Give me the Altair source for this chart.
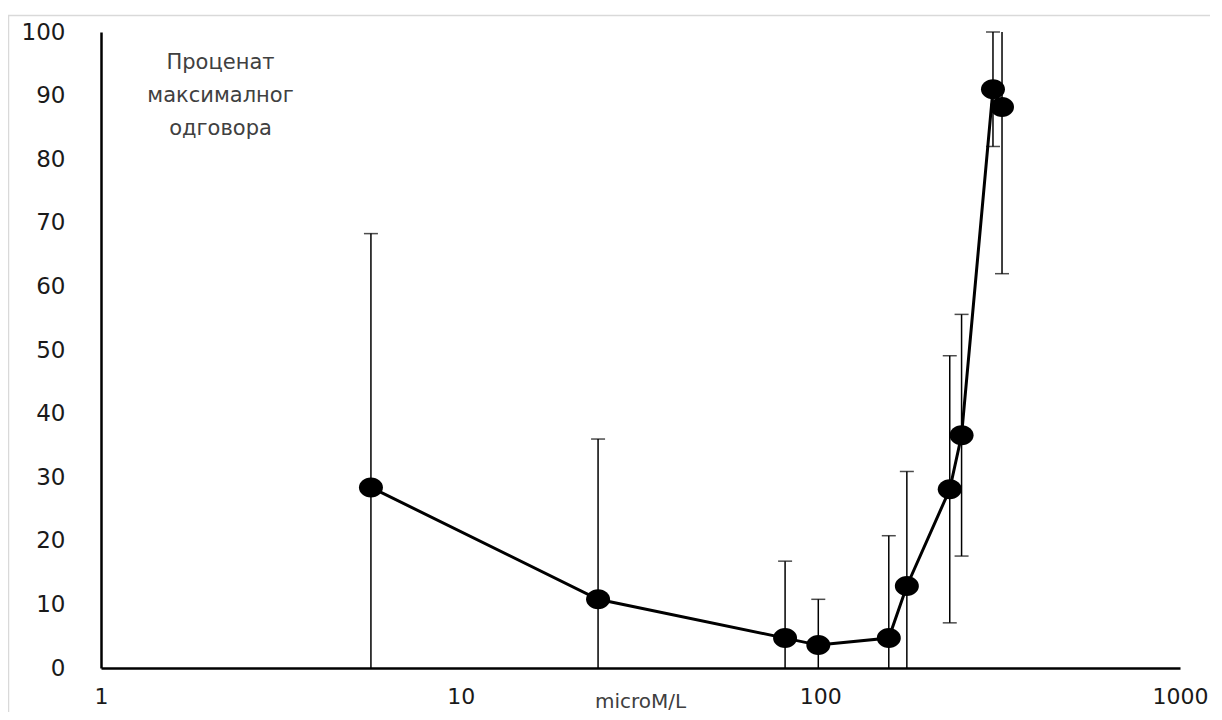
import altair as alt
import pandas as pd

# Data
conc = [5.63, 24.1, 79.8, 98.7, 155, 174, 229, 247, 302, 320]
resp = [28.4, 10.8, 4.7, 3.6, 4.7, 12.9, 28.1, 36.6, 91.0, 88.2]
sd = [39.9, 25.2, 12.1, 7.2, 16.1, 18.0, 21.0, 19.0, 9.0, 26.2]
x_ticks = [1, 10, 100, 1000]
y_ticks = [0, 10, 20, 30, 40, 50, 60, 70, 80, 90, 100]
x_title = "microM/L"
y_title = ["Проценат", "максималног", "одговора"]

FONT = "DejaVu Sans"

df = pd.DataFrame({"conc": conc, "resp": resp, "sd": sd})

xscale = alt.Scale(type="log", domain=[1, 1000], nice=False)
yscale = alt.Scale(domain=[0, 100], nice=False)

x_axis = alt.Axis(
    values=x_ticks, format="d", grid=False, ticks=False, tickSize=0,
    domainColor="black", domainWidth=2.5,
    labelFont=FONT, labelFontSize=22, labelColor="#1a1a1a", labelPadding=18,
    labelAngle=0, labelFlush=False, labelOverlap=False,
    title=x_title, titleFont=FONT, titleFontSize=20, titleFontWeight="normal",
    titleColor="#404040", titleX=539, titleY=33, titleBaseline="middle",
    titleAlign="center", titleAnchor="start",
)
y_axis = alt.Axis(
    values=y_ticks, grid=False, ticks=False, tickSize=0,
    domainColor="black", domainWidth=2.5,
    labelFont=FONT, labelFontSize=23, labelColor="#1a1a1a", labelPadding=36,
    labelFlush=False, labelOverlap=False,
    title=y_title, titleFont=FONT, titleFontSize=21, titleFontWeight="normal",
    titleColor="#404040", titleAngle=0, titleX=119, titleY=19,
    titleAlign="center", titleBaseline="top", titleLineHeight=33,
    titleAnchor="start",
)

X = alt.X("conc:Q", scale=xscale, axis=x_axis)

base = alt.Chart(df).transform_calculate(
    lo="datum.resp - datum.sd", hi="datum.resp + datum.sd"
).transform_calculate(
    lo_c="max(0, datum.lo)", hi_c="min(100, datum.hi)"
)

bars = base.mark_rule(color="black", strokeWidth=1.5).encode(
    x=X,
    y=alt.Y("lo_c:Q", scale=yscale, axis=y_axis),
    y2="hi_c:Q",
)

top_caps = base.transform_filter("datum.hi <= 100").mark_tick(
    orient="horizontal", size=14, thickness=1.5, color="black"
).encode(
    x=X,
    y=alt.Y("hi:Q", scale=yscale, axis=y_axis),
)

bot_caps = base.transform_filter("datum.lo >= 0").mark_tick(
    orient="horizontal", size=14, thickness=1.5, color="black"
).encode(
    x=X,
    y=alt.Y("lo:Q", scale=yscale, axis=y_axis),
)

line = alt.Chart(df).mark_line(color="black", strokeWidth=3).encode(
    x=X,
    y=alt.Y("resp:Q", scale=yscale, axis=y_axis),
)

ellipse = "M -1.2 0 A 1.2 1 0 1 0 1.2 0 A 1.2 1 0 1 0 -1.2 0 Z"
points = alt.Chart(df).mark_point(
    shape=ellipse, filled=True, color="black", opacity=1, size=400
).encode(
    x=X,
    y=alt.Y("resp:Q", scale=yscale, axis=y_axis),
)

frame = alt.Chart(alt.Data(values=[{}])).mark_rect(
    fillOpacity=0, stroke="#d9d9d9", strokeWidth=1.5, clip=False
).encode(
    x=alt.value(-92.5), x2=alt.value(1300), y=alt.value(-16.5), y2=alt.value(900)
)

chart = alt.layer(bars, top_caps, bot_caps, line, points, frame).properties(
    width=1079, height=636,
    autosize="none",
    background="white",
    padding={"left": 93, "top": 24, "right": 30, "bottom": 44},
).configure_view(strokeWidth=0, stroke="transparent")

chart.save("out.html", embed_options={"renderer": "svg", "actions": False})
